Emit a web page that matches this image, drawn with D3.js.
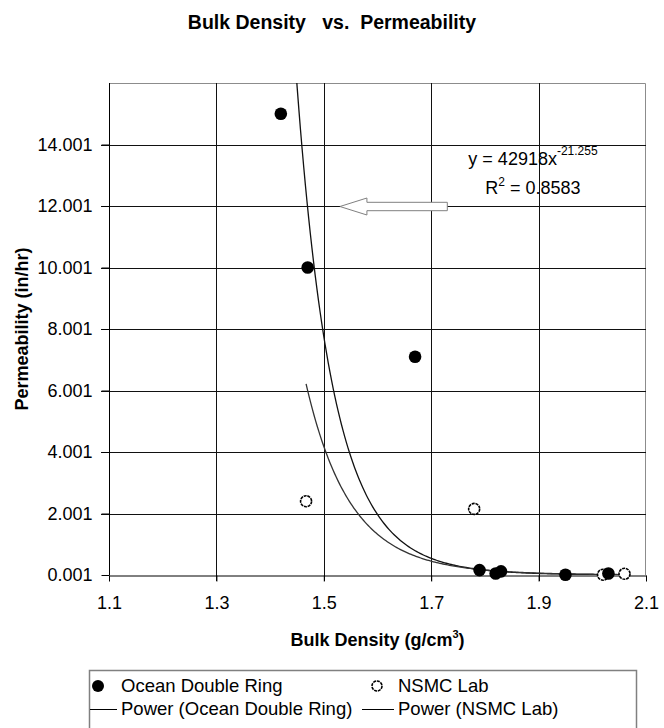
<!DOCTYPE html>
<html lang="en">
<head>
  <meta charset="UTF-8">
  <title>Bulk Density vs. Permeability</title>
  <style>
    *{ margin:0; padding:0; }
    body{ background:#fff; }
    text{ font-family:"Liberation Sans", Arial, sans-serif; fill:#000; }
  </style>
  <script src="https://cdn.jsdelivr.net/npm/d3@7"></script>
</head>
<body>
  <svg id="mainsvg"></svg>
  <script>
    // data
    const oceanX = [1.42, 1.47, 1.67, 1.79, 1.82, 1.83, 1.95, 2.03]
    const oceanY = [15.0, 10.0, 7.1, 0.16, 0.05, 0.12, 0.01, 0.05]
    const nsmcX = [1.467, 1.78, 2.02, 2.06]
    const nsmcY = [2.40, 2.15, 0.01, 0.04]
    // power trendlines y = a * x^b
    const oceanFit = [42918, -21.255]
    const nsmcFit = [5700, -17.8]
    const xTicks = [1.1, 1.3, 1.5, 1.7, 1.9, 2.1]
    const yTicks = [0.001, 2.001, 4.001, 6.001, 8.001, 10.001, 12.001, 14.001]
    const legendLabels = ['Ocean Double Ring', 'NSMC Lab', 'Power (Ocean Double Ring)', 'Power (NSMC Lab)']

    const width = 664, height = 728
    const margin = { left:109, top:83, right:18, bottom:153 }
    const svg = d3.select('#mainsvg').attr('width', width).attr('height', height)

    const x = d3.scaleLinear().domain([1.1, 2.1]).range([margin.left, width - margin.right])
    const y = d3.scaleLinear().domain([0.001, 16.001]).range([height - margin.bottom, margin.top])
    const x0 = x.range()[0], x1 = x.range()[1], y0 = y.range()[0], y1 = y.range()[1]

    svg.append('defs').append('clipPath').attr('id', 'plotclip')
      .append('rect').attr('x', x0).attr('y', y1).attr('width', x1 - x0).attr('height', y0 - y1)

    // title
    svg.append('text')
      .attr('x', width / 2).attr('y', 29)
      .attr('text-anchor', 'middle')
      .style('font-size', '19.5px').style('font-weight', 'bold').style('white-space', 'pre')
      .text('Bulk Density   vs.  Permeability')

    // frame top/right (grey)
    svg.append('path')
      .attr('d', `M${x0},${y1 + 0.5}H${x1 - 0.5}V${y0}`)
      .attr('fill', 'none').attr('stroke', '#8c8c8c').attr('stroke-width', 1)

    // grid
    const grid = svg.append('g')
    grid.selectAll('.hg').data(yTicks.slice(1)).join('line')
      .attr('x1', x0 - 8).attr('x2', x1)
      .attr('y1', d => Math.round(y(d)) + 0.5).attr('y2', d => Math.round(y(d)) + 0.5)
      .attr('stroke', '#111').attr('stroke-width', 1)
    grid.selectAll('.vg').data(xTicks.slice(1, -1)).join('line')
      .attr('x1', d => Math.round(x(d)) + 0.5).attr('x2', d => Math.round(x(d)) + 0.5)
      .attr('y1', y1).attr('y2', y0 + 6)
      .attr('stroke', '#111').attr('stroke-width', 1)

    // axes
    const yAxis = svg.append('g')
      .attr('transform', `translate(${x0 + 0.5},0)`)
      .call(d3.axisLeft(y).tickValues(yTicks).tickFormat(d3.format('.3f')).tickSize(8).tickPadding(9).tickSizeOuter(0))
    yAxis.select('.domain').attr('d', `M0,${y1}V${y0}`)
    const xAxis = svg.append('g')
      .attr('transform', `translate(0,${y0 + 0.5})`)
      .call(d3.axisBottom(x).tickValues(xTicks).tickFormat(d3.format('.1f')).tickSize(6).tickPadding(15).tickSizeOuter(0))
    svg.selectAll('.domain').attr('stroke', '#000')
    svg.selectAll('.tick line').attr('stroke', '#000')
    svg.selectAll('.tick text')
      .style('font-size', '18px').style('font-family', '"Liberation Sans", Arial, sans-serif').attr('fill', '#111')
    xAxis.selectAll('.tick text').attr('dy', '0.7em')

    // axis titles
    const xTitle = svg.append('text')
      .attr('x', (x0 + x1) / 2).attr('y', 646)
      .attr('text-anchor', 'middle')
      .style('font-size', '18px').style('font-weight', 'bold')
    xTitle.append('tspan').text('Bulk Density (g/cm')
    xTitle.append('tspan').attr('dy', -8).style('font-size', '11px').text('3')
    xTitle.append('tspan').attr('dy', 8).text(')')

    svg.append('text')
      .attr('transform', `translate(28,${(y0 + y1) / 2}) rotate(-90)`)
      .attr('text-anchor', 'middle')
      .style('font-size', '18px').style('font-weight', 'bold')
      .text('Permeability (in/hr)')

    // trendlines
    function fitPoints(fit, xs) {
      const lo = d3.min(xs), hi = d3.max(xs)
      return d3.range(0, 201).map(i => {
        const xv = lo + (hi - lo) * i / 200
        return [xv, fit[0] * Math.pow(xv, fit[1])]
      })
    }
    const line = d3.line().x(d => x(d[0])).y(d => y(d[1]))
    const trend = svg.append('g').attr('clip-path', 'url(#plotclip)')
    trend.append('path').datum(fitPoints(oceanFit, oceanX))
      .attr('d', line).attr('fill', 'none').attr('stroke', '#111').attr('stroke-width', 1.3)
    trend.append('path').datum(fitPoints(nsmcFit, nsmcX))
      .attr('d', line).attr('fill', 'none').attr('stroke', '#333').attr('stroke-width', 1.3)

    // points
    svg.append('g').selectAll('circle').data(d3.zip(nsmcX, nsmcY)).join('circle')
      .attr('cx', d => x(d[0])).attr('cy', d => y(d[1])).attr('r', 5.5)
      .attr('fill', '#fff').attr('stroke', '#000').attr('stroke-width', 1.6)
      .attr('stroke-dasharray', '3,0.8')
    svg.append('g').selectAll('circle').data(d3.zip(oceanX, oceanY)).join('circle')
      .attr('cx', d => x(d[0])).attr('cy', d => y(d[1])).attr('r', 6.3)
      .attr('fill', '#000')

    // equation label
    const eq = svg.append('text').attr('x', 533).attr('y', 165).attr('text-anchor', 'middle')
      .style('font-size', '18px')
    eq.append('tspan').text(`y = ${oceanFit[0]}x`)
    eq.append('tspan').attr('dy', -10).style('font-size', '12px').text(oceanFit[1])
    const r2 = svg.append('text').attr('x', 533).attr('y', 194).attr('text-anchor', 'middle')
      .style('font-size', '18px')
    r2.append('tspan').text('R')
    r2.append('tspan').attr('dy', -8).style('font-size', '12px').text('2')
    r2.append('tspan').attr('dy', 8).text(' = 0.8583')

    // block arrow pointing at the trendline
    const tipX = x(1.53), tailX = x(1.73), ay = y(12.001) + 0.5
    const headLen = 27, headH = 8.5, shaftH = 4.2
    svg.append('path')
      .attr('d', `M${tipX},${ay}L${tipX + headLen},${ay - headH}V${ay - shaftH}H${tailX}V${ay + shaftH}H${tipX + headLen}V${ay + headH}Z`)
      .attr('fill', '#fff').attr('stroke', '#808080').attr('stroke-width', 1)

    // legend
    const lg = svg.append('g')
    lg.append('rect').attr('x', 89.5).attr('y', 670.5).attr('width', 547).attr('height', 80)
      .attr('fill', '#fff').attr('stroke', '#808080').attr('stroke-width', 1.5)
    const colX = [121, 398], rowY = [692, 715]
    lg.append('circle').attr('cx', 98).attr('cy', 686).attr('r', 6).attr('fill', '#000')
    lg.append('circle').attr('cx', 377).attr('cy', 686).attr('r', 5)
      .attr('fill', '#fff').attr('stroke', '#000').attr('stroke-width', 1.6).attr('stroke-dasharray', '3,0.8')
    lg.append('line').attr('x1', 90).attr('x2', 117).attr('y1', 709.5).attr('y2', 709.5)
      .attr('stroke', '#000').attr('stroke-width', 1)
    lg.append('line').attr('x1', 362).attr('x2', 394).attr('y1', 709.5).attr('y2', 709.5)
      .attr('stroke', '#000').attr('stroke-width', 1)
    lg.selectAll('.lt').data(legendLabels).join('text')
      .attr('x', (d, i) => colX[i % 2]).attr('y', (d, i) => rowY[Math.floor(i / 2)])
      .style('font-size', '18.5px')
      .text(d => d)
  </script>
</body>
</html>
